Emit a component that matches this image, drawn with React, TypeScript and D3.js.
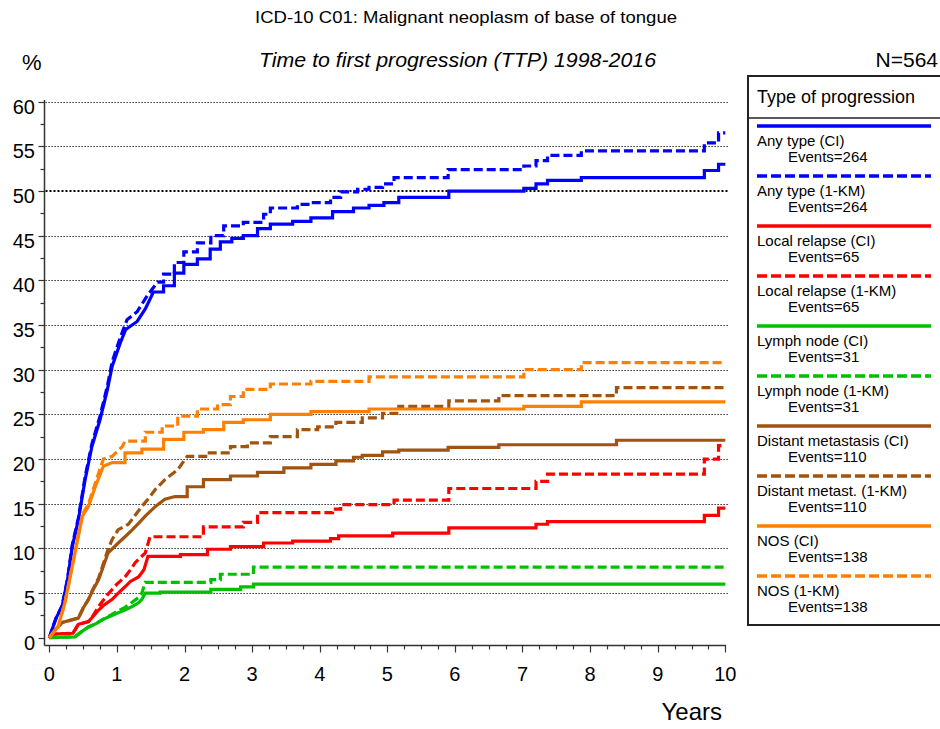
import React from "react";
import * as d3 from "d3";

const title = "ICD-10 C01: Malignant neoplasm of base of tongue";
const subtitle = "Time to first progression (TTP) 1998-2016";
const nLabel = "N=564";
const legendTitle = "Type of progression";

const xTicks = [0, 1, 2, 3, 4, 5, 6, 7, 8, 9, 10];
const yTicks = [0, 5, 10, 15, 20, 25, 30, 35, 40, 45, 50, 55, 60];

// Any type (CI)
const anyCI_t = [0, 0.04, 0.1, 0.19, 0.27, 0.34, 0.43, 0.53, 0.63, 0.75, 0.86, 0.93, 1.05, 1.13, 1.3, 1.42, 1.54, 1.69, 1.85, 1.99, 2.19, 2.38, 2.53, 2.7, 2.87, 3.08, 3.27, 3.6, 3.87, 4.19, 4.5, 4.73, 4.95, 5.17, 5.91, 7.02, 7.2, 7.37, 7.87, 9.69, 9.9, 10];
const anyCI_v = [0, 0.9, 2.2, 3.5, 6.5, 10.2, 13.2, 17.7, 21.4, 24.4, 27.8, 30.4, 33, 34.5, 35.4, 36.8, 38.7, 39.4, 40.8, 41.8, 42.4, 43.5, 44.3, 44.7, 45, 45.8, 46.3, 46.6, 47.0, 47.7, 48.1, 48.4, 48.7, 49.3, 50.0, 50.3, 50.8, 51.2, 51.5, 52.3, 53.0, 53.0];
// Any type (1-KM)
const anyKM_t = [0, 0.04, 0.1, 0.19, 0.27, 0.34, 0.43, 0.53, 0.63, 0.75, 0.86, 0.93, 1.05, 1.15, 1.3, 1.45, 1.6, 1.69, 1.85, 1.99, 2.19, 2.39, 2.58, 2.87, 3.17, 3.27, 3.67, 3.87, 4.16, 4.31, 4.56, 4.73, 4.93, 5.1, 5.9, 7.02, 7.2, 7.37, 7.87, 9.69, 9.9, 10];
const anyKM_v = [0, 0.9, 2.2, 3.6, 6.6, 10.4, 13.4, 18, 21.7, 24.8, 28.2, 30.9, 33.6, 35.6, 36.5, 38.3, 39.8, 40.7, 42, 43.2, 44.2, 45, 46.1, 46.5, 47.4, 48.1, 48.5, 48.7, 49.3, 49.9, 50.2, 50.4, 50.8, 51.5, 52.4, 52.8, 53.4, 54.0, 54.5, 55.4, 56.5, 56.5];
// Local relapse (CI)
const lrCI_t = [0, 0.05, 0.35, 0.43, 0.58, 0.65, 0.73, 0.8, 0.93, 1.02, 1.12, 1.2, 1.32, 1.4, 1.46, 1.94, 2.34, 2.68, 3.17, 3.6, 4.16, 4.28, 5.08, 5.91, 7.2, 7.37, 9.69, 9.9, 10];
const lrCI_v = [0, 0.4, 0.5, 1.5, 1.8, 2.4, 3.1, 3.6, 4.3, 5.0, 5.7, 6.3, 6.8, 7.6, 9.1, 9.3, 9.9, 10.2, 10.6, 10.8, 11.1, 11.4, 11.7, 12.3, 12.7, 13.0, 13.7, 14.5, 14.5];
// Local relapse (1-KM)
const lrKM_t = [0, 0.05, 0.35, 0.43, 0.58, 0.65, 0.73, 0.86, 0.93, 1.0, 1.12, 1.2, 1.27, 1.42, 1.49, 2.28, 2.87, 3.08, 4.19, 4.31, 5.1, 5.91, 7.2, 7.37, 9.69, 9.9, 10];
const lrKM_v = [0, 0.4, 0.5, 1.5, 1.8, 2.5, 3.5, 4.8, 5.4, 6.0, 6.8, 7.6, 8.4, 9.5, 11.3, 12.4, 12.9, 14.0, 14.4, 14.9, 15.4, 16.7, 17.5, 18.3, 20.0, 21.5, 21.5];
// Lymph node (CI)
const lnCI_t = [0, 0.38, 0.5, 0.58, 0.7, 0.78, 0.9, 1.02, 1.12, 1.23, 1.32, 1.37, 1.42, 1.64, 2.39, 2.83, 3.02, 10];
const lnCI_v = [0, 0.1, 0.8, 1.2, 1.6, 2.0, 2.4, 2.8, 3.1, 3.5, 3.9, 4.3, 5.0, 5.1, 5.4, 5.7, 6.0, 6.0];
// Lymph node (1-KM)
const lnKM_t = [0, 0.38, 0.5, 0.58, 0.7, 0.78, 0.9, 1.02, 1.12, 1.23, 1.32, 1.37, 1.42, 2.39, 2.53, 3.02, 10];
const lnKM_v = [0, 0.1, 0.8, 1.2, 1.6, 2.0, 2.5, 3.0, 3.4, 4.0, 4.5, 5.0, 6.2, 6.5, 7.1, 7.9, 7.9];
// Distant metastasis (CI)
const dmCI_t = [0, 0.09, 0.19, 0.43, 0.5, 0.58, 0.65, 0.73, 0.8, 0.87, 1.02, 1.12, 1.23, 1.32, 1.42, 1.57, 1.71, 1.86, 2.04, 2.28, 2.68, 3.08, 3.47, 3.87, 4.24, 4.5, 4.63, 4.93, 5.17, 5.9, 6.65, 8.39, 10];
const dmCI_v = [0, 0.9, 1.7, 2.2, 3.3, 4.3, 5.4, 6.5, 8.0, 9.5, 10.6, 11.3, 12.1, 12.8, 13.6, 14.7, 15.5, 15.8, 16.9, 17.7, 18.1, 18.5, 19.0, 19.4, 19.8, 20.2, 20.4, 20.8, 21.0, 21.3, 21.6, 22.1, 22.1];
// Distant metast. (1-KM)
const dmKM_t = [0, 0.09, 0.19, 0.43, 0.5, 0.58, 0.65, 0.73, 0.8, 0.87, 0.93, 1.02, 1.17, 1.27, 1.37, 1.47, 1.57, 1.71, 1.9, 2.04, 2.34, 2.68, 2.93, 3.27, 3.67, 3.97, 4.24, 4.63, 4.93, 5.17, 5.91, 6.65, 8.39, 10];
const dmKM_v = [0, 0.9, 1.7, 2.2, 3.3, 4.3, 5.5, 6.7, 8.3, 9.9, 11.0, 12.1, 12.7, 13.7, 14.7, 15.6, 16.6, 17.7, 18.8, 20.3, 20.7, 21.4, 21.8, 22.5, 23.3, 23.6, 24.1, 24.6, 25.1, 25.9, 26.5, 27.1, 28.0, 28.0];
// NOS (CI)
const nosCI_t = [0, 0.05, 0.13, 0.23, 0.3, 0.38, 0.49, 0.58, 0.68, 0.8, 0.93, 1.12, 1.37, 1.69, 1.99, 2.28, 2.58, 2.87, 3.27, 3.87, 4.73, 7.02, 7.87, 10];
const nosCI_v = [0, 0.5, 1.2, 3.9, 6.5, 9.5, 13.6, 14.7, 16.9, 19.2, 19.6, 20.7, 21.1, 22.2, 23.0, 23.3, 24.1, 24.4, 25.0, 25.3, 25.6, 25.9, 26.4, 26.4];
// NOS (1-KM)
const nosKM_t = [0, 0.05, 0.13, 0.23, 0.3, 0.38, 0.49, 0.58, 0.68, 0.8, 0.93, 1.08, 1.12, 1.42, 1.67, 1.9, 2.19, 2.49, 2.68, 2.87, 3.27, 3.87, 4.73, 7.02, 7.87, 10];
const nosKM_v = [0, 0.5, 1.2, 3.9, 6.5, 9.6, 13.8, 15, 17.3, 20.0, 20.3, 21.4, 22, 23, 23.7, 24.8, 25.6, 26.1, 27, 27.8, 28.4, 28.7, 29.2, 30.0, 30.8, 30.8];

const seriesLabels = [
  "Any type (CI)", "Any type (1-KM)", "Local relapse (CI)", "Local relapse (1-KM)",
  "Lymph node (CI)", "Lymph node (1-KM)", "Distant metastasis (CI)", "Distant metast. (1-KM)",
  "NOS (CI)", "NOS (1-KM)",
];
const seriesEvents = [264, 264, 65, 65, 31, 31, 110, 110, 138, 138];
const seriesColors = ["#0000ff", "#0000ff", "#ff0000", "#ff0000", "#00c000", "#00c000", "#a0540f", "#a0540f", "#ff8000", "#ff8000"];
const seriesDashed = [false, true, false, true, false, true, false, true, false, true];
const seriesT = [anyCI_t, anyKM_t, lrCI_t, lrKM_t, lnCI_t, lnKM_t, dmCI_t, dmKM_t, nosCI_t, nosKM_t];
const seriesV = [anyCI_v, anyKM_v, lrCI_v, lrKM_v, lnCI_v, lnKM_v, dmCI_v, dmKM_v, nosCI_v, nosKM_v];
// time up to which the dense staircase of early events reads as a continuous rise
const denseUntil = [1.54, 1.6, 1.46, 1.49, 1.42, 1.42, 1.86, 2.04, 0.93, 1.12];

const FONT = "'Liberation Sans', Arial, Helvetica, sans-serif";

function stepPoints(ts: number[], vs: number[], dense: number): [number, number][] {
  const pts: [number, number][] = [];
  ts.forEach((t, i) => {
    if (i > 0 && t > dense) pts.push([t, vs[i - 1]]);
    pts.push([t, vs[i]]);
  });
  return pts;
}

export default function App() {
  const W = 940, H = 729;
  const x = d3.scaleLinear().domain([0, 10]).range([49.3, 725.3]);
  const y = d3.scaleLinear().domain([0, 60]).range([637.7, 101.7]);
  const axisX = 44.5;
  const axisY = 645.5;
  const line = d3.line<[number, number]>()
    .x((d) => x(d[0]))
    .y((d) => y(d[1]))
    .curve(d3.curveLinear);

  const minorX = d3.range(0, 10.001, 0.25);
  const minorY = d3.range(0, 60.001, 2.5);
  const crisp = (v: number) => Math.round(v) + 0.5;

  return (
    <svg width={W} height={H} style={{ position: "absolute", left: 0, top: 0, display: "block", background: "#fff" }} fontFamily={FONT}>
      <rect x={0} y={0} width={W} height={H} fill="#fff" />
      <text x={466} y={23} fontSize={17} textAnchor="middle" textLength={422} lengthAdjust="spacingAndGlyphs">{title}</text>
      <text x={457.5} y={67} fontSize={20} fontStyle="italic" textAnchor="middle" textLength={397} lengthAdjust="spacingAndGlyphs">{subtitle}</text>
      <text x={22} y={70} fontSize={22}>%</text>
      <text x={938} y={67} fontSize={21} textAnchor="end">{nLabel}</text>

      {/* gridlines */}
      {yTicks.filter((t) => t > 0).map((t) => (
        <line key={"g" + t} x1={axisX + 1} x2={728} y1={t === 50 ? Math.round(y(t)) : crisp(y(t))} y2={t === 50 ? Math.round(y(t)) : crisp(y(t))}
          stroke="#000" strokeWidth={t === 50 ? 2 : 1.1} strokeDasharray={t === 50 ? "2,2" : "1.2,1.8"} />
      ))}

      {/* axes */}
      <line x1={axisX} x2={axisX} y1={100} y2={axisY} stroke="#333" strokeWidth={1.5} />
      <line x1={axisX} x2={726} y1={axisY} y2={axisY} stroke="#333" strokeWidth={1.5} />
      {minorY.map((t) => (
        <line key={"yt" + t} x1={t % 5 === 0 ? axisX - 6 : axisX - 4} x2={axisX} y1={crisp(y(t))} y2={crisp(y(t))} stroke="#333" strokeWidth={1.2} />
      ))}
      {minorX.map((t) => (
        <line key={"xt" + t} x1={crisp(x(t))} x2={crisp(x(t))} y1={axisY} y2={t % 1 === 0 ? axisY + 7 : axisY + 4} stroke="#333" strokeWidth={1.2} />
      ))}
      {yTicks.map((t) => (
        <text key={"yl" + t} x={35} y={y(t) + 12} fontSize={20} textAnchor="end">{t}</text>
      ))}
      {xTicks.map((t) => (
        <text key={"xl" + t} x={x(t)} y={681} fontSize={20} textAnchor="middle">{t}</text>
      ))}
      <text x={722} y={720} fontSize={24} textAnchor="end">Years</text>

      {/* curves */}
      {seriesT.map((ts, i) => {
        const pts = stepPoints(ts, seriesV[i], denseUntil[i]);
        return (
          <path key={"s" + i} d={line(pts) || ""} fill="none" stroke={seriesColors[i]}
            strokeWidth={3.2} strokeDasharray={seriesDashed[i] ? "9,4" : undefined} strokeLinejoin="miter" />
        );
      })}

      {/* legend */}
      <rect x={748} y={76} width={200} height={549} fill="none" stroke="#222" strokeWidth={2} />
      <line x1={748} x2={945} y1={118} y2={118} stroke="#222" strokeWidth={1.5} />
      <text x={757} y={103} fontSize={18}>{legendTitle}</text>
      {seriesLabels.map((lab, i) => {
        const ly = 126 + i * 50;
        return (
          <g key={"lg" + i}>
            <line x1={757} x2={931} y1={ly} y2={ly} stroke={seriesColors[i]} strokeWidth={3.5}
              strokeDasharray={seriesDashed[i] ? "10,4" : undefined} />
            <text x={757} y={ly + 20} fontSize={15}>{lab}</text>
            <text x={788} y={ly + 36} fontSize={15}>{"Events=" + seriesEvents[i]}</text>
          </g>
        );
      })}
    </svg>
  );
}
